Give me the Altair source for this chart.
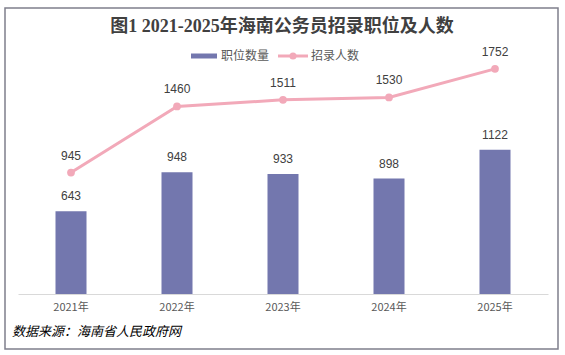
import altair as alt
import pandas as pd

years = ["2021年", "2022年", "2023年", "2024年", "2025年"]
positions = [643, 948, 933, 898, 1122]
recruits = [945, 1460, 1511, 1530, 1752]

title_text = "图1 2021-2025年海南公务员招录职位及人数"
source_text = "数据来源：海南省人民政府网"
legend_labels = ["职位数量", "招录人数"]

BAR = "#7377AE"
LINE = "#F2A9B9"
CJK = "Noto Sans CJK SC"

df = pd.DataFrame({"year": years, "positions": positions, "recruits": recruits})

x = alt.X("year:N", sort=years, title=None,
          scale=alt.Scale(paddingInner=0, paddingOuter=0),
          axis=alt.Axis(labelAngle=0, ticks=False, domainColor="#D9D9D9", domainWidth=1,
                        labelColor="#595959", labelFont=CJK, labelFontSize=11,
                        labelPadding=7, grid=False))
yscale = alt.Scale(domain=[0, 2000])

base = alt.Chart(df)

bars = base.mark_bar(color=BAR, size=31).encode(
    x=x, y=alt.Y("positions:Q", scale=yscale, axis=None))
bar_labels = base.mark_text(dy=-15, baseline="middle", fontSize=12, color="#404040",
                            font="Liberation Sans").encode(
    x=x, y=alt.Y("positions:Q", scale=yscale, axis=None), text="positions:Q")
line = base.mark_line(color=LINE, strokeWidth=3,
                      point=alt.OverlayMarkDef(color=LINE, size=60, filled=True)).encode(
    x=x, y=alt.Y("recruits:Q", scale=yscale, axis=None))
line_labels = base.mark_text(dy=-17, baseline="middle", fontSize=12, color="#404040",
                             font="Liberation Sans").encode(
    x=x, y=alt.Y("recruits:Q", scale=yscale, axis=None), text="recruits:Q")

one = pd.DataFrame({"a": [0]})
deco = alt.Chart(one)

border = deco.mark_rect(fill=None, stroke="#7F7F8C", strokeWidth=1.5).encode(
    x=alt.value(-13), x2=alt.value(540), y=alt.value(-29), y2=alt.value(312))
title = deco.mark_text(text=title_text, font="Liberation Serif, " + CJK, fontSize=18,
                       fontWeight="bold", color="#404040", align="center",
                       baseline="middle").encode(x=alt.value(264), y=alt.value(-10))
sw = deco.mark_rect(color=BAR).encode(
    x=alt.value(173), x2=alt.value(199), y=alt.value(16.5), y2=alt.value(21.5))
leg1 = deco.mark_text(text=legend_labels[0], font=CJK, fontSize=12, color="#595959",
                      align="left", baseline="middle").encode(x=alt.value(203), y=alt.value(19))
lrule = deco.mark_rule(color=LINE, strokeWidth=3).encode(
    x=alt.value(260), x2=alt.value(290), y=alt.value(19))
lpt = deco.mark_point(color=LINE, filled=True, size=50, opacity=1).encode(
    x=alt.value(275), y=alt.value(19))
leg2 = deco.mark_text(text=legend_labels[1], font=CJK, fontSize=12, color="#595959",
                      align="left", baseline="middle").encode(x=alt.value(293), y=alt.value(19))
source = deco.mark_text(text=source_text, font=CJK, fontSize=13, fontStyle="italic",
                        color="#000000", align="left", baseline="middle").encode(
    x=alt.value(-6), y=alt.value(295))

chart = alt.layer(border, title, sw, leg1, lrule, lpt, leg2, source,
                  bars, bar_labels, line, line_labels).properties(
    width=530, height=257,
    autosize=alt.AutoSizeParams(type="none"),
    padding={"left": 18, "top": 37, "right": 17, "bottom": 61},
    background="white",
).configure_view(stroke=None)

chart.save("out.html", embed_options={"renderer": "svg", "actions": False})
